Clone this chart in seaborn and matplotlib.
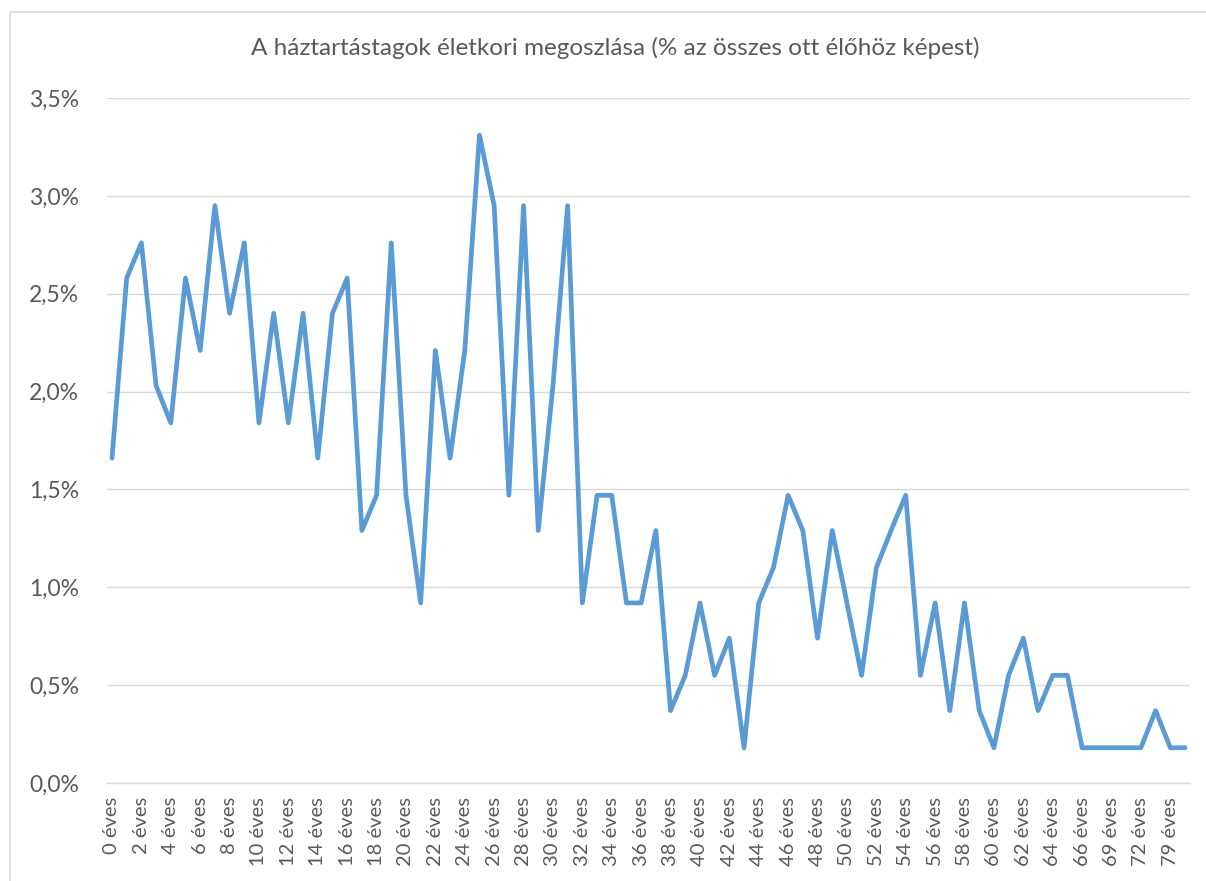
import numpy as np
import pandas as pd
import matplotlib
matplotlib.use("Agg")
import matplotlib.pyplot as plt
import seaborn as sns
from matplotlib.ticker import FuncFormatter
from matplotlib.lines import Line2D

# Életkor kategóriák (a tengelyen minden második látszik)
ages = list(range(0, 67)) + [68, 69, 71, 72, 76, 79, 85]
categories = [f"{a} éves" for a in ages]

# Megoszlás, % (leolvasva)
share = [
    1.66, 2.58, 2.76, 2.03, 1.84, 2.58, 2.21, 2.95, 2.40, 2.76,
    1.84, 2.40, 1.84, 2.40, 1.66, 2.40, 2.58, 1.29, 1.47, 2.76,
    1.47, 0.92, 2.21, 1.66, 2.21, 3.31, 2.95, 1.47, 2.95, 1.29,
    2.03, 2.95, 0.92, 1.47, 1.47, 0.92, 0.92, 1.29, 0.37, 0.55,
    0.92, 0.55, 0.74, 0.18, 0.92, 1.10, 1.47, 1.29, 0.74, 1.29,
    0.92, 0.55, 1.10, 1.29, 1.47, 0.55, 0.92, 0.37, 0.92, 0.37,
    0.18, 0.55, 0.74, 0.37, 0.55, 0.55, 0.18, 0.18, 0.18, 0.18,
    0.18, 0.37, 0.18, 0.18,
]

title = "A háztartástagok életkori megoszlása (% az összes ott élőhöz képest)"
y_ticks = [0, 0.5, 1.0, 1.5, 2.0, 2.5, 3.0, 3.5]

df = pd.DataFrame({"pos": np.arange(len(categories)), "kor": categories, "arany": share})

sns.set_style("white")
plt.rcParams["font.family"] = ["Lato", "DejaVu Sans"]
text_col = "#595959"
grid_col = "#D9D9D9"

W, H = 1206, 881
fig = plt.figure(figsize=(W / 100, H / 100), dpi=100)
ax = fig.add_axes([107 / W, (H - 783) / H, (1190 - 107) / W, (783 - 98) / H])

sns.lineplot(data=df, x="pos", y="arany", ax=ax, color="#5B9BD5", linewidth=3.4,
             solid_joinstyle="round", solid_capstyle="round")

ax.set_xlim(-0.34, len(categories) - 1 + 0.34)
ax.set_ylim(0, 3.5)
ax.set_yticks(y_ticks)
ax.yaxis.set_major_formatter(FuncFormatter(lambda v, p: f"{v:.1f}%".replace(".", ",")))
ax.set_xticks(df["pos"][::2])
ax.set_xticklabels(categories[::2], rotation=90)
ax.grid(axis="y", color=grid_col, linewidth=1.0)
ax.set_axisbelow(True)
for s in ["top", "right", "left"]:
    ax.spines[s].set_visible(False)
ax.spines["bottom"].set_color(grid_col)
ax.spines["bottom"].set_linewidth(1.0)
ax.tick_params(axis="y", length=0, pad=20, labelsize=16.5, labelcolor=text_col)
ax.tick_params(axis="x", length=0, pad=10, labelsize=14.5, labelcolor=text_col)
ax.set_xlabel("")
ax.set_ylabel("")

fig.text(615 / W, 1 - 48 / H, title, ha="center", va="center",
         fontsize=17.5, color=text_col)

# a diagram keretje (csak bal és felső széle látszik)
bx, by = 9.5 / W, 1 - 11.5 / H
fig.lines.append(Line2D([bx, 1.0], [by, by], transform=fig.transFigure,
                        color=grid_col, linewidth=1.2))
fig.lines.append(Line2D([bx, bx], [0.0, by], transform=fig.transFigure,
                        color=grid_col, linewidth=1.2))

fig.savefig("out.png", dpi=100)
